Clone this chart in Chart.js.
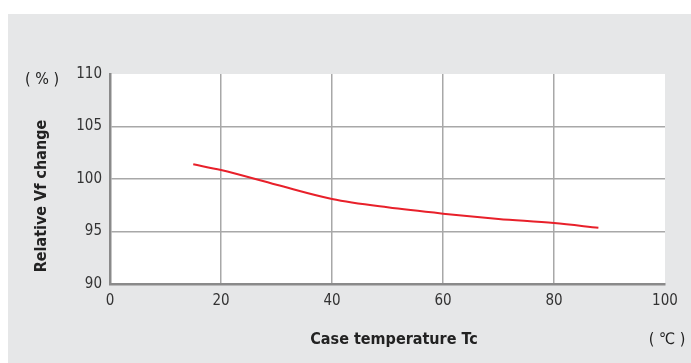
<!DOCTYPE html>
<html>
<head>
<meta charset="utf-8">
<script src="https://cdn.jsdelivr.net/npm/chart.js@4"></script>
<style>
  html, body { margin: 0; padding: 0; background: #fff; }
  #wrap { width: 691px; height: 363px; }
</style>
</head>
<body>
<div id="wrap"><canvas id="myChart" width="691" height="363"></canvas></div>
<script>
// data
var temps = [15, 20, 30, 40, 50, 60, 70, 80, 88];
var vfChange = [101.4, 100.85, 99.45, 98.1, 97.3, 96.7, 96.2, 95.8, 95.35];
var xTicks = [0, 20, 40, 60, 80, 100];
var yTicks = [90, 95, 100, 105, 110];

var narrow = "'Liberation Sans Narrow', 'DejaVu Sans Condensed', sans-serif";

// gray panel, white plot area and the extra labels
var decor = {
  id: 'decor',
  beforeDraw: function(chart) {
    var ctx = chart.ctx;
    var a = chart.chartArea;
    ctx.save();
    ctx.fillStyle = '#e6e7e8';
    ctx.fillRect(8, 14, chart.width - 8, chart.height - 14);
    ctx.fillStyle = '#ffffff';
    ctx.fillRect(a.left, a.top, a.right - a.left, a.bottom - a.top);
    ctx.restore();
  },
  afterDraw: function(chart) {
    var ctx = chart.ctx;
    ctx.save();
    ctx.fillStyle = '#222';
    ctx.textBaseline = 'middle';
    ctx.textAlign = 'center';
    ctx.font = '16px ' + narrow;
    ctx.fillText('( % )', 42, 80);
    ctx.fillText('( \u2103 )', 667, 340);
    ctx.font = 'bold 16px ' + narrow;
    ctx.fillText('Case temperature Tc', 394, 340);
    ctx.translate(42, 196);
    ctx.rotate(-Math.PI / 2);
    ctx.fillText('Relative Vf change', 0, 0);
    ctx.restore();
  }
};

var ctx = document.getElementById('myChart').getContext('2d');
var myChart = new Chart(ctx, {
  type: 'line',
  data: {
    datasets: [{
      data: temps.map(function(t, i) { return { x: t, y: vfChange[i] }; }),
      borderColor: '#e8202a',
      borderWidth: 2,
      pointRadius: 0,
      cubicInterpolationMode: 'monotone',
      fill: false
    }]
  },
  options: {
    responsive: false,
    animation: false,
    layout: { padding: { left: 0, top: 74, right: 26, bottom: 0 } },
    plugins: {
      legend: { display: false },
      tooltip: { enabled: false }
    },
    scales: {
      x: {
        type: 'linear',
        min: 0,
        max: 100,
        afterFit: function(scale) { scale.height = 79; },
        afterBuildTicks: function(scale) {
          scale.ticks = xTicks.map(function(v) { return { value: v }; });
        },
        ticks: {
          padding: 8,
          color: '#333',
          font: { family: narrow, size: 15 }
        },
        grid: {
          drawTicks: false,
          lineWidth: 1.5,
          color: function(c) {
            var v = c.tick ? c.tick.value : null;
            return (v === 0 || v === 100) ? 'rgba(0,0,0,0)' : '#a8a8a8';
          }
        },
        border: { color: '#8a8a8a', width: 2.5 }
      },
      y: {
        min: 90,
        max: 110,
        afterFit: function(scale) { scale.width = 110; },
        afterBuildTicks: function(scale) {
          scale.ticks = yTicks.map(function(v) { return { value: v }; });
        },
        ticks: {
          padding: 8,
          color: '#333',
          font: { family: narrow, size: 15 }
        },
        grid: {
          drawTicks: false,
          lineWidth: 1.5,
          color: function(c) {
            var v = c.tick ? c.tick.value : null;
            return (v === 90 || v === 110) ? 'rgba(0,0,0,0)' : '#a8a8a8';
          }
        },
        border: { color: '#8a8a8a', width: 2.5 }
      }
    }
  },
  plugins: [decor]
});
</script>
</body>
</html>
